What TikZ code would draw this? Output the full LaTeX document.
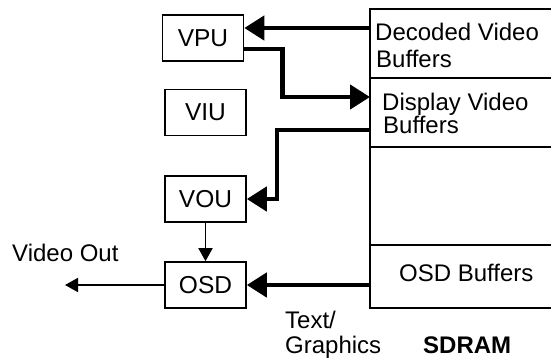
\documentclass[tikz,border=0pt]{standalone}
\usepackage{fontspec}
\setmainfont{Liberation Sans}
\usetikzlibrary{arrows.meta}
\begin{document}
\begin{tikzpicture}[x=1pt,y=-1pt,
  box/.style={draw,line width=1.6pt,minimum width=81pt,minimum height=46pt,inner sep=0pt,font=\fontsize{24.5}{28}\selectfont},
  lbl/.style={anchor=base west,inner sep=0pt,font=\fontsize{24}{28}\selectfont},
  thickarr/.style={line width=4.5pt,-{Triangle[length=20pt,width=24pt]}},
  thinarr/.style={line width=1.8pt,-{Triangle[length=13pt,width=14pt]}},
  mem/.style={line width=1.8pt}]
\useasboundingbox (0,0) rectangle (551,360);
% processing units
\node[box] (vpu) at (203,38) {VPU};
\node[box] (viu) at (205.5,112.5) {VIU};
\node[box] (vou) at (205.5,199) {VOU};
\node[box] (osd) at (205.5,285) {OSD};
% SDRAM column
\draw[mem] (553,9) -- (370,9) -- (370,308) -- (553,308);
\draw[mem] (370,78) -- (553,78);
\draw[mem] (370,147) -- (553,147);
\draw[mem] (370,245) -- (553,245);
\coordinate (dvin) at (370,28);
\coordinate (dspin) at (370,97);
\coordinate (dspout) at (370,130);
\coordinate (osdbin) at (370,285);
\coordinate (vout) at (65,285);
% connectors
\draw[thickarr] (dvin) -- (vpu.east |- dvin);
\draw[thickarr] ([yshift=-11pt]vpu.east) -- ++(38,0) |- (dspin);
\draw[thickarr] (dspout) -- ++(-93,0) |- (vou.east);
\draw[thinarr] (vou.south) -- (osd.north);
\draw[thickarr] (osdbin) -- (osd.east);
\draw[thinarr] (osd.west) -- (vout);
% labels
\node[lbl] (dec1) at (375,40) {Decoded Video};
\node[lbl] (dec2) at (376,67) {Buffers};
\node[lbl] (dis1) at (382,110) {Display Video};
\node[lbl] (dis2) at (383,133) {Buffers};
\node[lbl] (vo) at (12,261) {Video Out};
\node[lbl] (ob) at (399,281) {OSD Buffers};
\node[lbl] (t1) at (285,328) {Text/};
\node[lbl] (t2) at (285,353) {Graphics};
\node[lbl,font=\fontsize{24}{28}\selectfont\bfseries] (sd) at (423,353) {SDRAM};
\end{tikzpicture}
\end{document}
